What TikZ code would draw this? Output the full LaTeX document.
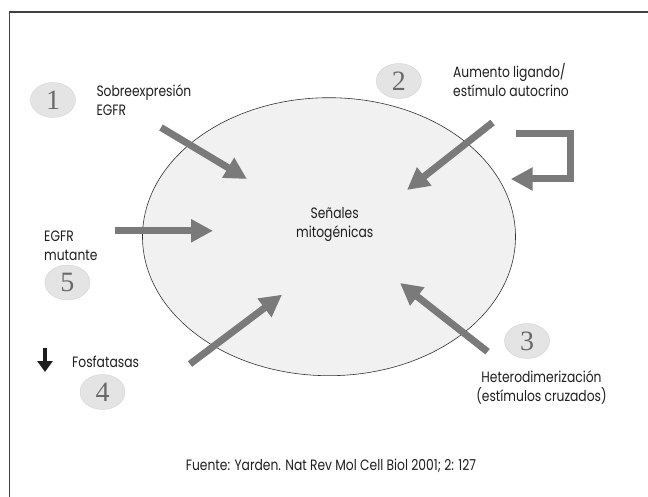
\documentclass[tikz,border=0pt]{standalone}
\usepackage{fontspec}
\setmainfont{Poppins}[FakeStretch=0.82]
\newfontfamily\numfont{Liberation Serif}
\usetikzlibrary{arrows.meta, positioning, shapes.geometric}
\definecolor{arrowgray}{HTML}{7A7A7A}
\definecolor{cellgray}{HTML}{F1F1F1}
\definecolor{circlegray}{HTML}{E4E4E4}
\definecolor{circleedge}{HTML}{D2D2D2}
\definecolor{numgray}{HTML}{6A6A6A}
\definecolor{textdark}{HTML}{1E1E1E}

\begin{document}
\begin{tikzpicture}[
    x=1pt, y=-1pt,
    every node/.style={inner sep=0pt, font=\fontsize{15}{19}\selectfont, text=textdark},
    label/.style={align=left, anchor=west},
    numcircle/.style={ellipse, fill=circlegray, draw=circleedge, line width=0.4pt, minimum width=45pt, minimum height=35pt, font=\numfont\fontsize{28}{28}\selectfont, text=numgray},
    bigarrow/.style={-{Triangle[length=22pt, width=22pt]}, line width=7pt, draw=arrowgray}
]
\useasboundingbox (0,0) rectangle (648,497);

% Frame
\draw [line width=1.3pt, draw=black!75] (9.5,497) -- (9.5,12) -- (648,12);

% Nodes
\node (cell) [draw=black!80, line width=0.6pt, ellipse, fill=cellgray, minimum width=373pt, minimum height=278pt] at (329,236.7) {};
\node (signal) [align=center] at (334.7,224.7) {Señales\\mitogénicas};

\node (c1) [numcircle] at (53,100) {1};
\node (c2) [numcircle] at (398.8,81) {2};
\node (c3) [numcircle] at (527,341) {3};
\node (c4) [numcircle] at (102.5,392) {4};
\node (c5) [numcircle] at (67.4,282.5) {5};

\node (over) [label] at (96.3,100) {Sobreexpresión\\EGFR};
\node (ligand) [label] at (453,80.5) {Aumento ligando/\\estímulo autocrino};
\node (mutant) [label] at (44,245.5) {EGFR\\mutante};
\node (phos) [label] at (72,362) {Fosfatasas};
\node (hetero) [align=center] at (541.5,387) {Heterodimerización\\(estímulos cruzados)};
\node (source) at (331,466) {Fuente: Yarden. Nat Rev Mol Cell Biol 2001; 2: 127};

% Arrow ends
\coordinate (a1s) at (161,127.5);   \coordinate (a1e) at (247,179);
\coordinate (a2s) at (492.6,122.5); \coordinate (a2e) at (407,190);
\coordinate (a3s) at (487.6,351.7); \coordinate (a3e) at (400,283);
\coordinate (a4s) at (190,364);     \coordinate (a4e) at (282,294.7);
\coordinate (a5s) at (114.5,230.8); \coordinate (a5e) at (213,230.8);
\coordinate (loops) at (516,133.3); \coordinate (loopc) at (570,179);
\coordinate (loope) at (510.7,179);
\coordinate (downs) at (45,348);    \coordinate (downe) at (45,372);

% Edges
\draw [bigarrow] (a1s) -- (a1e);
\draw [bigarrow] (a2s) -- (a2e);
\draw [bigarrow] (a3s) -- (a3e);
\draw [bigarrow] (a4s) -- (a4e);
\draw [bigarrow] (a5s) -- (a5e);
\draw [bigarrow, line join=miter] (loops) -| (loopc) -- (loope);
\draw [-{Triangle[length=11pt, width=15pt]}, line width=3.3pt, draw=textdark] (downs) -- (downe);

\end{tikzpicture}
\end{document}
